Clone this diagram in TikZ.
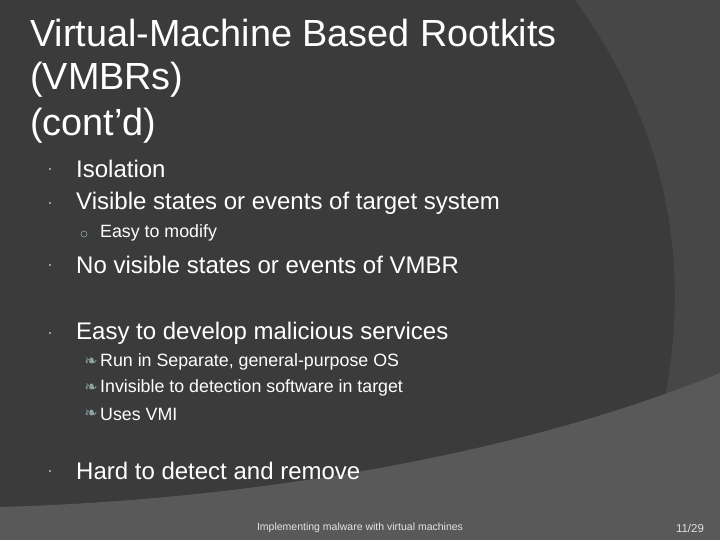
\documentclass[tikz,border=0pt]{standalone}
\usepackage{fontspec}
\setmainfont{Liberation Sans}
\newfontfamily\dejavu{DejaVu Sans}
\begin{document}
\begin{tikzpicture}[x=1pt,y=-1pt,
  title/.style={anchor=west,text=white,font=\fontsize{37.8}{40}\selectfont,inner sep=0},
  lvl/.style={anchor=west,text=white,font=\fontsize{24}{26}\selectfont,inner sep=0},
  sub/.style={anchor=west,text=white,font=\fontsize{17.8}{19}\selectfont,inner sep=0},
  dotb/.style={fill=bul,draw=none,minimum size=2.6pt,inner sep=0,rectangle},
  ]
\definecolor{bg}{HTML}{3B3B3B}
\definecolor{bgr}{HTML}{474747}
\definecolor{bgb}{HTML}{595959}
\definecolor{bul}{HTML}{8FA3A3}
\useasboundingbox (0,0) rectangle (720,540);
\fill[bg] (0,0) rectangle (720,540);
\fill[bgr] (575,0) .. controls (655,110) and (700,250) .. (660,420) -- (720,420) -- (720,0) -- cycle;
\fill[bgb] (0,507) .. controls (250,500) and (520,455) .. (720,373) -- (720,540) -- (0,540) -- cycle;
\node[title] (t1) at (30,33) {Virtual-Machine Based Rootkits};
\node[title] (t2) at (30,80) {(VMBRs)};
\node[title] (t3) at (30,126) {(cont’d)};
\foreach \n/\y/\t in {a/169/Isolation,b/203/Visible states or events of target system,c/265/No visible states or events of VMBR,d/333/Easy to develop malicious services,e/471/Hard to detect and remove}{
  \node[lvl] (\n) at (76,\y) {\t};
  \node[dotb] (\n d) at (50,\y) {};
}
\node[sub] (b1) at (100,233) {Easy to modify};
\node[draw=bul,circle,minimum size=6pt,inner sep=0,line width=0.6pt] (b1d) at (84,234) {};
\foreach \n/\y/\t in {d1/362/{Run in Separate, general-purpose OS},d2/388/Invisible to detection software in target,d3/414/Uses VMI}{
  \node[sub] (\n) at (100,\y) {\t};
  \node[anchor=east,text=bul,font=\dejavu\fontsize{16}{16}\selectfont,inner sep=0] (\n d) at (98,\y) {❧};
}
\node[text=white!80!gray,font=\fontsize{10.5}{12}\selectfont] (f) at (360,528) {Implementing malware with virtual machines};
\node[text=white!75!gray,font=\fontsize{11.5}{12}\selectfont] (pg) at (690,528) {11/29};
\end{tikzpicture}
\end{document}
